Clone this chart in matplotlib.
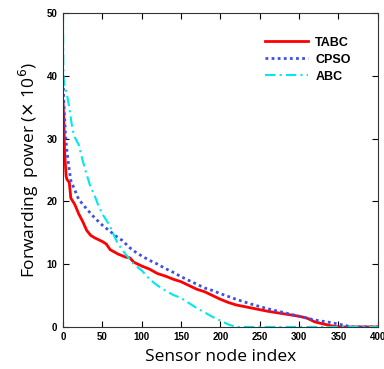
import matplotlib
matplotlib.use('Agg')
import matplotlib.pyplot as plt

# forwarding power (x 10^6) per sensor node index
tabc_x = [0, 1, 2, 4, 5, 8, 10, 15, 20, 25, 30, 35, 40, 50, 55, 60, 70, 80, 85, 90, 100,
          110, 120, 130, 140, 150, 160, 170, 180, 190, 200, 210, 220, 240, 260, 280, 300,
          310, 320, 330, 340, 350, 400]
tabc_y = [36, 33, 28, 24, 23.5, 23, 20.5, 19.5, 18, 16.8, 15.4, 14.6, 14.2, 13.6, 13.2, 12.3,
          11.6, 11.1, 11.0, 10.3, 9.7, 9.2, 8.5, 8.1, 7.6, 7.2, 6.6, 6.0, 5.6, 5.0, 4.4, 3.9,
          3.5, 3.0, 2.5, 2.1, 1.7, 1.4, 0.8, 0.5, 0.2, 0.0, 0.0]

cpso_x = [0, 1, 3, 5, 8, 10, 17, 20, 30, 40, 50, 60, 70, 75, 85, 90, 100, 110, 120, 130,
          140, 150, 160, 170, 180, 190, 200, 220, 240, 260, 280, 300, 320, 340, 352, 360,
          365, 400]
cpso_y = [40, 36, 31, 28, 25, 23.3, 21.2, 20.3, 18.8, 17.4, 16.2, 15.2, 14.2, 13.8, 12.6,
          12.1, 11.3, 10.6, 10.0, 9.3, 8.7, 8.0, 7.4, 6.8, 6.2, 5.8, 5.3, 4.4, 3.6, 2.9, 2.3,
          1.7, 1.1, 0.7, 0.4, 0.2, 0.0, 0.0]

abc_x = [0, 0.5, 2, 5, 8, 12, 15, 20, 25, 30, 35, 40, 45, 50, 55, 60, 65, 70, 80, 90, 100,
         110, 120, 130, 140, 150, 160, 170, 180, 190, 200, 210, 220, 400]
abc_y = [50, 40, 38.5, 37, 35, 31.5, 30.2, 29, 26.5, 24.3, 22.3, 21, 19.3, 18.0, 17.0,
         16.0, 14.5, 13.2, 11.5, 10.0, 9.0, 7.6, 6.6, 5.8, 5.1, 4.6, 3.8, 3.0, 2.3, 1.6,
         1.0, 0.4, 0.0, 0.0]

x_ticks = [0, 50, 100, 150, 200, 250, 300, 350, 400]
y_ticks = [0, 10, 20, 30, 40, 50]

fig = plt.figure(figsize=(3.84, 3.69), dpi=100)
ax = fig.add_axes([0.164, 0.114, 0.82, 0.851])

ax.plot(tabc_x, tabc_y, color='#ff0000', lw=2.0, label='TABC')
ax.plot(cpso_x, cpso_y, color='#3c50e6', lw=2.0, ls=(0, (1, 1.2)), label='CPSO')
ax.plot(abc_x, abc_y, color='#00e8f0', lw=1.5, ls=(0, (5, 2, 1, 2)), label='ABC')

ax.set_xlim(0, 400)
ax.set_ylim(0, 50)
ax.set_xticks(x_ticks)
ax.set_yticks(y_ticks)
ax.tick_params(direction='in', top=True, right=True, length=4, width=0.8,
               labelsize=7, pad=4)
for lbl in ax.get_xticklabels() + ax.get_yticklabels():
    lbl.set_fontweight('bold')
    lbl.set_family('Liberation Sans')
for sp in ax.spines.values():
    sp.set_linewidth(0.8)
    sp.set_color('#333333')

ax.set_xlabel('Sensor node index', fontsize=12.5, family='Open Sans', labelpad=5)
ax.set_ylabel('Forwarding  power ($\\times$ 10$^6$)', fontsize=12.5, family='Open Sans',
              labelpad=4)

leg = ax.legend(loc='upper right', bbox_to_anchor=(0.95, 0.96), frameon=False,
                prop={'family': 'Liberation Sans', 'weight': 'bold', 'size': 9},
                handlelength=3.4, labelspacing=0.4, handletextpad=0.6)

fig.savefig('out.png', dpi=100)
